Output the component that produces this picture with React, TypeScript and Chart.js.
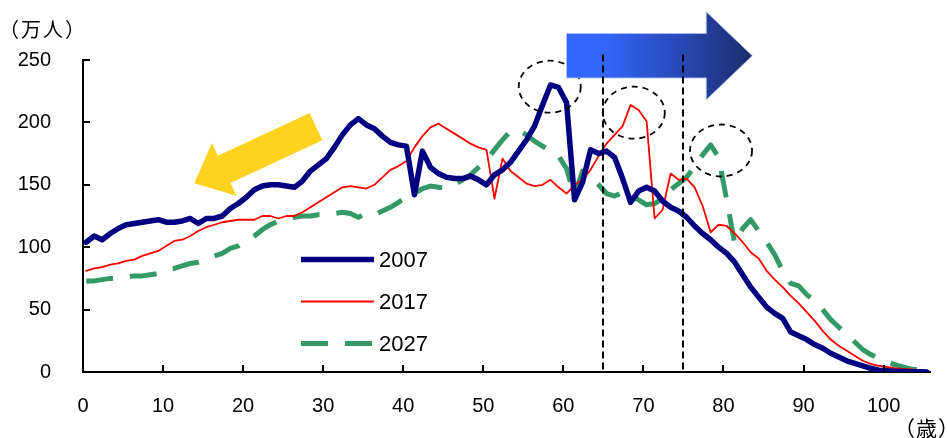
import React, { useEffect, useRef } from "react";
import { Chart, registerables } from "chart.js";

Chart.register(...registerables);

// ---- data ----
const AGES: number[] = Array.from({ length: 106 }, (_, i) => i);
const SERIES_LABELS = ["2007", "2017", "2027"];

const POP_2007 = [
  104, 109, 106, 111, 115, 118, 119, 120, 121, 122,
  120, 120, 121, 123, 119, 123, 123, 125, 131, 135,
  140, 146, 149, 150, 150, 149, 148, 153, 161, 166,
  171, 180, 190, 198, 203, 198, 195, 189, 184, 182,
  181, 142, 177, 164, 159, 156, 155, 155, 157, 154,
  150, 158, 162, 168, 177, 186, 197, 214, 230, 228,
  216, 138, 152, 178, 175, 177, 172, 155, 136, 145,
  148, 145, 137, 132, 129, 124, 117, 111, 106, 100,
  95, 88, 78, 68, 60, 52, 47, 43, 32, 29,
  26, 22, 19, 15, 12, 9, 7, 5, 3, 1.5,
  1, 0.6, 0.4, 0.3, 0.2, 0.1,
];

const POP_2017 = [
  81, 83, 84, 86, 87, 89, 90, 93, 95, 97,
  101, 105, 106, 109, 113, 116, 118, 120, 121, 122,
  122, 122, 125, 125, 123, 125, 125, 128, 132, 136,
  140, 144, 148, 149, 148, 147, 150, 156, 162, 165,
  169, 180, 189, 196, 199, 195, 191, 187, 183, 180,
  178, 139, 171, 161, 156, 151, 149, 150, 154, 148,
  143, 150, 154, 162, 173, 183, 190, 197, 214, 210,
  201, 123, 130, 159, 154, 155, 148, 133, 112, 118,
  117, 111, 104, 96, 91, 81, 74, 68, 61, 55,
  48, 41, 33, 26, 21, 17, 13, 9, 6.5, 5,
  4, 3, 2.5, 2, 1.2, 1,
];

const POP_2027 = [
  73, 73, 74, 75, 75, 76, 77, 77, 78, 79,
  82, 83, 85, 87, 88, 90, 93, 95, 99, 101,
  105, 109, 114, 118, 121, 122, 124, 125, 125, 126,
  126, 127, 128, 127, 124, 127, 126, 129, 132, 136,
  140, 143, 147, 149, 148, 147, 150, 154, 158, 164,
  170, 178, 186, 193, 194, 190, 185, 181, 177, 173,
  163, 141, 161, 156, 150, 143, 141, 144, 141, 138,
  134, 135, 139, 146, 151, 156, 165, 174, 182, 172,
  138, 103, 115, 122, 113, 104, 94, 81, 71, 69,
  62, 57, 50, 42, 36, 30, 24, 18, 14, 11,
  8, 6, 4, 2.5, 1.5, 1,
];

const X_TICKS = [0, 10, 20, 30, 40, 50, 60, 70, 80, 90, 100];
const Y_TICKS = [0, 50, 100, 150, 200, 250];
const Y_UNIT = "（万人）";
const X_UNIT = "（歳）";

// annotations (data units: age, 万人)
const GUIDE_AGES = [65, 75];
const HIGHLIGHT_AGES = [58.3, 68.8, 79.7];
const HIGHLIGHT_VALUES = [228.6, 207.8, 177.5];
const YELLOW_FROM = { age: 29.1, value: 196.6 };
const YELLOW_TO = { age: 13.9, value: 151.2 };
const BLUE_FROM = { age: 60.4, value: 253.4 };
const BLUE_TO = { age: 83.6, value: 253.4 };

const AGE_CENTER = 0.4;
const COLORS = ["#000080", "#FF0000", "#339966"];
const FONT = "'Liberation Sans', Arial, sans-serif";
const CJK = "'Noto Sans CJK JP', sans-serif";

const decorPlugin = {
  id: "decor",
  afterDraw(chart: any) {
    const { ctx, chartArea, scales } = chart;
    const xs = scales.x;
    const ys = scales.y;
    const { left, bottom, top } = chartArea;
    ctx.save();

    // inner ticks
    ctx.strokeStyle = "#000";
    ctx.lineWidth = 2;
    ctx.setLineDash([]);
    ctx.beginPath();
    Y_TICKS.forEach((v) => {
      const y = Math.round(ys.getPixelForValue(v));
      ctx.moveTo(left, y);
      ctx.lineTo(left + 7, y);
    });
    X_TICKS.forEach((v) => {
      const x = Math.round(xs.getPixelForValue(v));
      ctx.moveTo(x, bottom);
      ctx.lineTo(x, bottom - 7);
    });
    ctx.stroke();

    // dashed ellipses
    ctx.strokeStyle = "#000";
    ctx.lineWidth = 1.8;
    ctx.setLineDash([6, 5]);
    HIGHLIGHT_AGES.forEach((a, i) => {
      const cx = xs.getPixelForValue(a);
      const cy = ys.getPixelForValue(HIGHLIGHT_VALUES[i]);
      ctx.beginPath();
      ctx.ellipse(cx, cy, 31, 26, 0, 0, Math.PI * 2);
      ctx.stroke();
    });

    // blue arrow
    {
      const x0 = xs.getPixelForValue(BLUE_FROM.age);
      const x1 = xs.getPixelForValue(BLUE_TO.age);
      const cy = ys.getPixelForValue(BLUE_FROM.value);
      const headLen = 46;
      const bh = 22.2;
      const hh = 44;
      const g = ctx.createLinearGradient(x0, 0, x1, 0);
      g.addColorStop(0, "#3468FF");
      g.addColorStop(0.2, "#3366FA");
      g.addColorStop(0.6, "#2849B8");
      g.addColorStop(1, "#1C2C6A");
      ctx.setLineDash([]);
      ctx.beginPath();
      ctx.moveTo(x0, cy - bh);
      ctx.lineTo(x1 - headLen, cy - bh);
      ctx.lineTo(x1 - headLen, cy - hh);
      ctx.lineTo(x1, cy);
      ctx.lineTo(x1 - headLen, cy + hh);
      ctx.lineTo(x1 - headLen, cy + bh);
      ctx.lineTo(x0, cy + bh);
      ctx.closePath();
      ctx.fillStyle = g;
      ctx.fill();
      ctx.strokeStyle = "rgba(170,190,255,0.8)";
      ctx.lineWidth = 1;
      ctx.stroke();
    }

    // yellow arrow
    {
      const tx = xs.getPixelForValue(YELLOW_FROM.age);
      const ty = ys.getPixelForValue(YELLOW_FROM.value);
      const px = xs.getPixelForValue(YELLOW_TO.age);
      const py = ys.getPixelForValue(YELLOW_TO.value);
      const L = Math.hypot(px - tx, py - ty);
      const dx = (px - tx) / L;
      const dy = (py - ty) / L;
      const nx = -dy;
      const ny = dx;
      const headLen = 33;
      const bh = 15;
      const hh = 29;
      const bx = px - dx * headLen;
      const by = py - dy * headLen;
      ctx.beginPath();
      ctx.moveTo(tx + nx * bh, ty + ny * bh);
      ctx.lineTo(bx + nx * bh, by + ny * bh);
      ctx.lineTo(bx + nx * hh, by + ny * hh);
      ctx.lineTo(px, py);
      ctx.lineTo(bx - nx * hh, by - ny * hh);
      ctx.lineTo(bx - nx * bh, by - ny * bh);
      ctx.lineTo(tx - nx * bh, ty - ny * bh);
      ctx.closePath();
      ctx.fillStyle = "#FFD21F";
      ctx.fill();
    }

    // vertical dashed guides
    ctx.strokeStyle = "#000";
    ctx.lineWidth = 2;
    ctx.setLineDash([7, 4]);
    GUIDE_AGES.forEach((a) => {
      const x = Math.round(xs.getPixelForValue(a));
      ctx.beginPath();
      ctx.moveTo(x, ys.getPixelForValue(254.5));
      ctx.lineTo(x, bottom);
      ctx.stroke();
    });

    // legend
    const legendX0 = left + 218;
    const legendX1 = left + 291;
    const legendY = [259.5, 301.5, 343.5];
    chart.data.datasets.forEach((ds: any, i: number) => {
      const y = legendY[i];
      ctx.beginPath();
      ctx.strokeStyle = ds.borderColor;
      ctx.lineWidth = ds.borderWidth;
      ctx.lineCap = "butt";
      ctx.setLineDash(ds.borderDash || []);
      ctx.moveTo(legendX0, y);
      ctx.lineTo(legendX1, y);
      ctx.stroke();
      ctx.setLineDash([]);
      ctx.fillStyle = "#000";
      ctx.font = `22px ${FONT}`;
      ctx.textAlign = "left";
      ctx.textBaseline = "middle";
      ctx.fillText(ds.label, legendX1 + 5, y + 1);
    });

    // unit labels
    ctx.fillStyle = "#000";
    ctx.textAlign = "left";
    ctx.textBaseline = "middle";
    try {
      (ctx as any).letterSpacing = "2px";
    } catch (e) {}
    ctx.font = `20px ${CJK}`;
    ctx.fillText(Y_UNIT, -1, top - 31);
    try {
      (ctx as any).letterSpacing = "1px";
    } catch (e) {}
    ctx.font = `21px ${CJK}`;
    ctx.fillText(X_UNIT, 894, 428);

    ctx.restore();
  },
};

export default function App() {
  const ref = useRef<HTMLCanvasElement | null>(null);

  useEffect(() => {
    if (!ref.current) return;
    const series = [POP_2007, POP_2017, POP_2027];
    const chart = new Chart(ref.current, {
      type: "line",
      data: {
        datasets: series.map((vals, i) => ({
          label: SERIES_LABELS[i],
          data: vals.map((v, k) => ({ x: AGES[k] + AGE_CENTER, y: v })),
          borderColor: COLORS[i],
          backgroundColor: COLORS[i],
          borderWidth: i === 0 ? 5.5 : i === 1 ? 1.8 : 5,
          borderDash: i === 2 ? [27, 17] : [],
          borderJoinStyle: "round",
          borderCapStyle: i === 2 ? "butt" : "round",
          pointRadius: 0,
          tension: 0,
          fill: false,
        })),
      },
      options: {
        animation: false,
        responsive: false,
        maintainAspectRatio: false,
        layout: { padding: { top: 60, right: 17, bottom: 0, left: 0 } },
        plugins: { legend: { display: false }, tooltip: { enabled: false } },
        scales: {
          x: {
            type: "linear",
            min: 0,
            max: 105.8,
            grid: { display: false, drawTicks: false },
            border: { display: true, color: "#000", width: 2 },
            afterBuildTicks: (s: any) => {
              s.ticks = X_TICKS.map((v) => ({ value: v }));
            },
            afterFit: (s: any) => {
              s.height = 66;
            },
            ticks: {
              font: { family: FONT, size: 20 },
              color: "#000",
              padding: 22,
              maxRotation: 0,
              autoSkip: false,
            },
          },
          y: {
            type: "linear",
            min: 0,
            max: 250,
            grid: { display: false, drawTicks: false },
            border: { display: true, color: "#000", width: 2 },
            afterBuildTicks: (s: any) => {
              s.ticks = Y_TICKS.map((v) => ({ value: v }));
            },
            afterFit: (s: any) => {
              s.width = 83;
            },
            ticks: {
              font: { family: FONT, size: 20 },
              color: "#000",
              padding: 32,
            },
          },
        },
      },
      plugins: [decorPlugin],
    } as any);
    return () => chart.destroy();
  }, []);

  return (
    <div style={{ position: "absolute", left: 0, top: 0, width: 947, height: 438, background: "#fff" }}>
      <canvas ref={ref} width={947} height={438} />
    </div>
  );
}
